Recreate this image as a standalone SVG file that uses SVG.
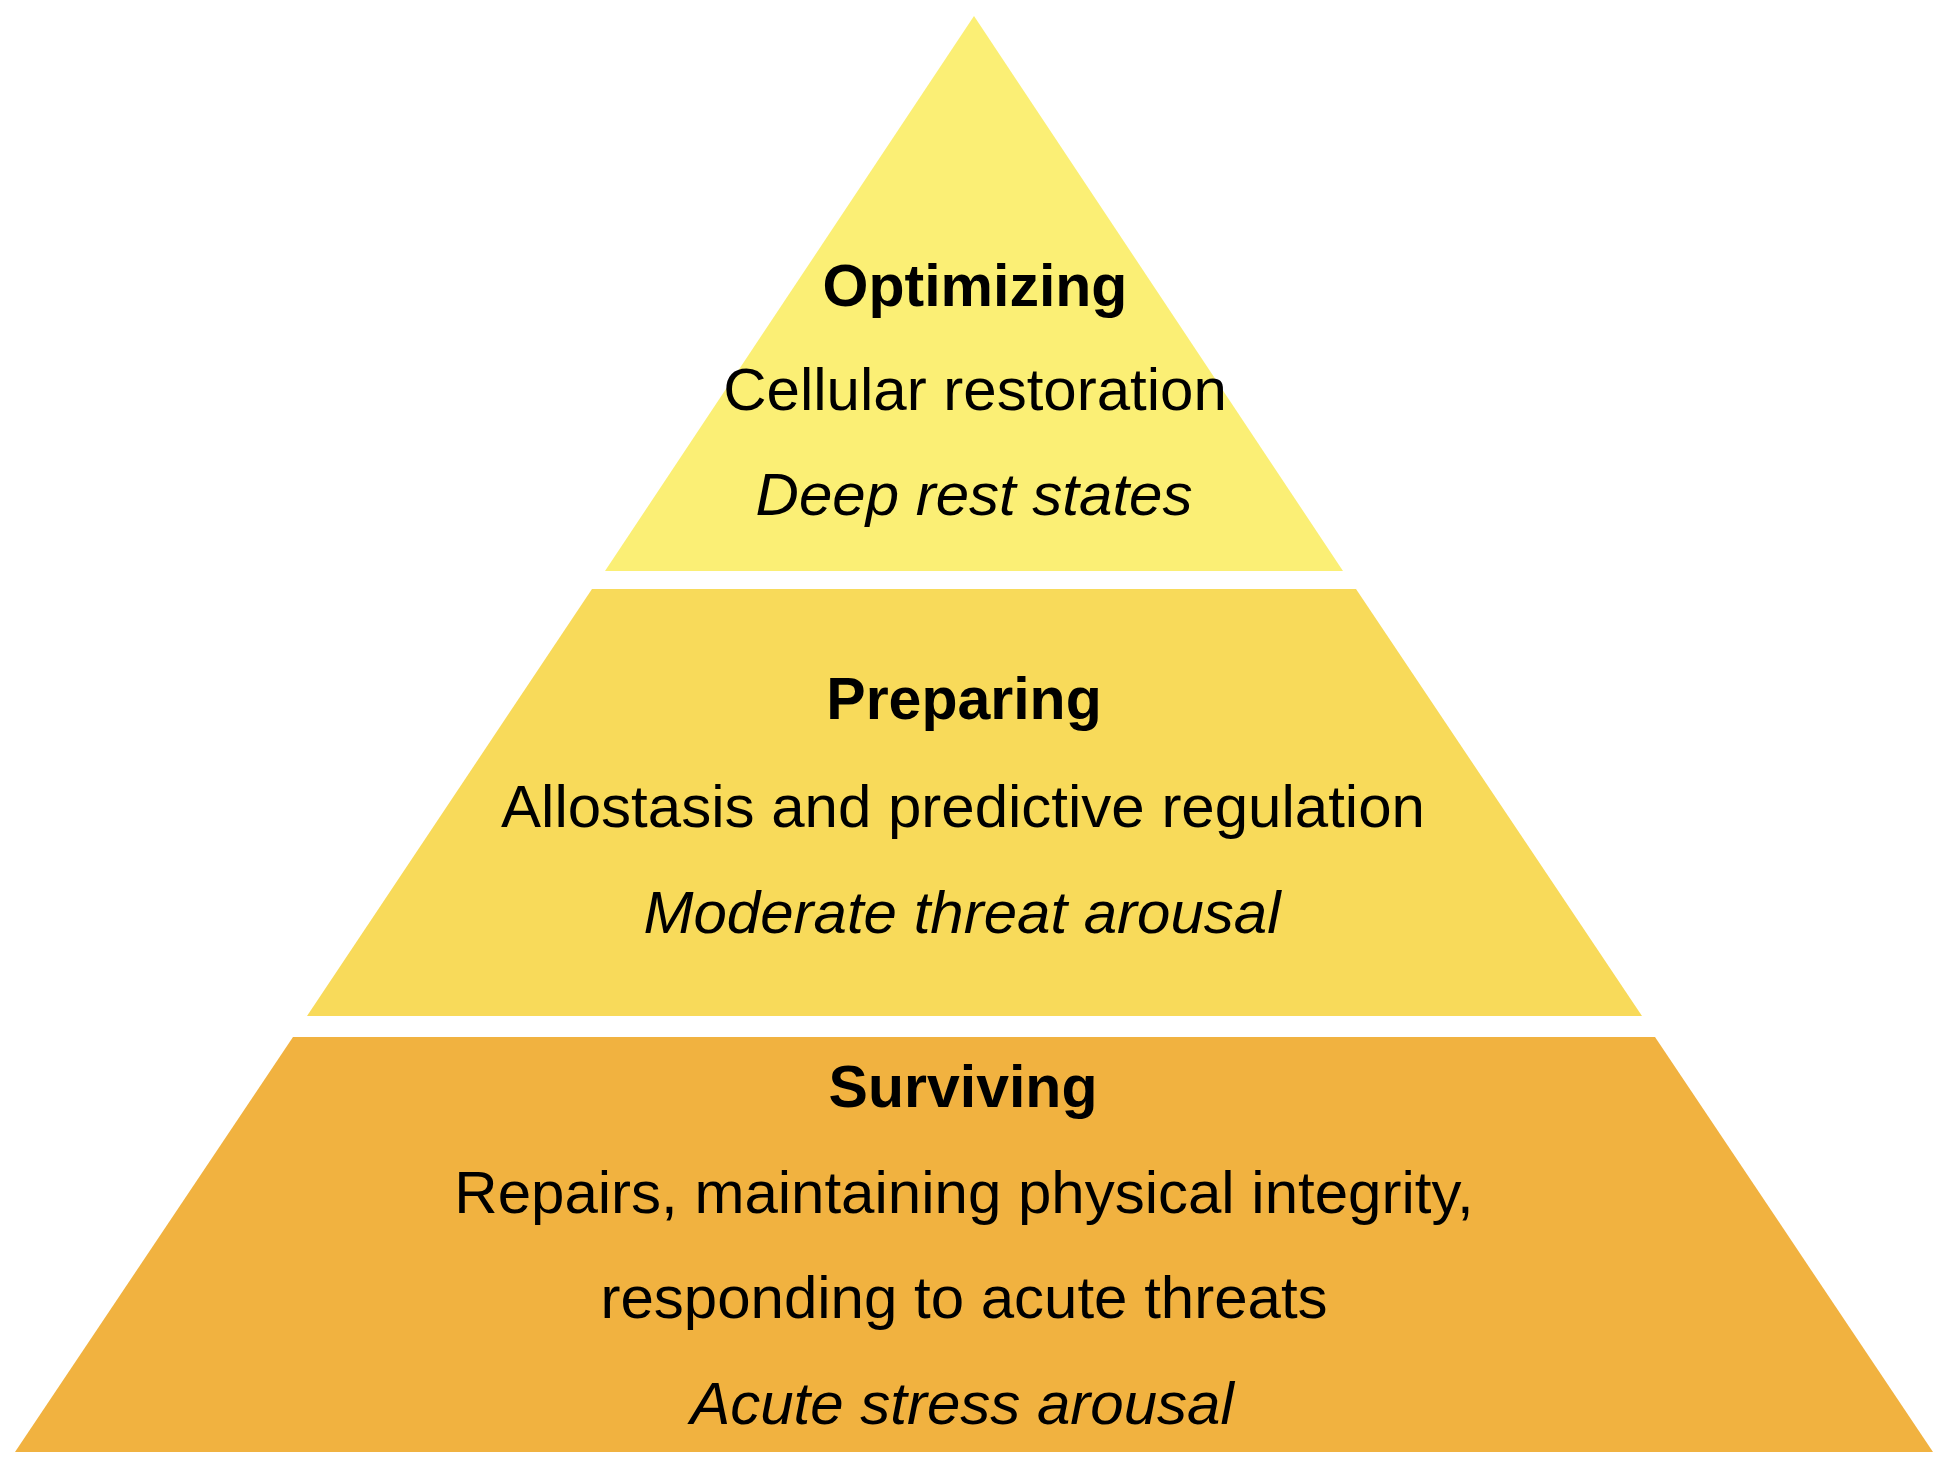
<svg xmlns="http://www.w3.org/2000/svg" width="1950" height="1469" viewBox="0 0 1950 1469">
  <style>
    text { font-family: "Liberation Sans", Arial, Helvetica, sans-serif; fill: #000; text-anchor: middle; }
    .title { font-weight: bold; font-size: 59px; }
    .body { font-size: 60px; }
    .state { font-size: 60px; font-style: italic; }
    .t1 { fill: #FBEF75; }
    .t2 { fill: #F8DA5A; }
    .t3 { fill: #F1B240; }
  </style>
  <rect x="0" y="0" width="1950" height="1469" fill="#FFFFFF"/>
  <g id="tier-optimizing">
    <polygon class="t1" points="974,16 1343,571 605,571"/>
    <text class="title" x="975" y="306">Optimizing</text>
    <text class="body" x="975" y="410">Cellular restoration</text>
    <text class="state" x="974" y="515">Deep rest states</text>
  </g>
  <g id="tier-preparing">
    <polygon class="t2" points="592,589 1356,589 1642,1016 307,1016"/>
    <text class="title" x="964" y="719">Preparing</text>
    <text class="body" x="963" y="827">Allostasis and predictive regulation</text>
    <text class="state" x="962" y="933">Moderate threat arousal</text>
  </g>
  <g id="tier-surviving">
    <polygon class="t3" points="293,1037 1655,1037 1933,1452 15,1452"/>
    <text class="title" x="963" y="1107">Surviving</text>
    <text class="body" x="964" y="1213">Repairs, maintaining physical integrity,</text>
    <text class="body" x="964" y="1318">responding to acute threats</text>
    <text class="state" x="962" y="1424">Acute stress arousal</text>
  </g>
  <g id="connectors"></g>
</svg>
